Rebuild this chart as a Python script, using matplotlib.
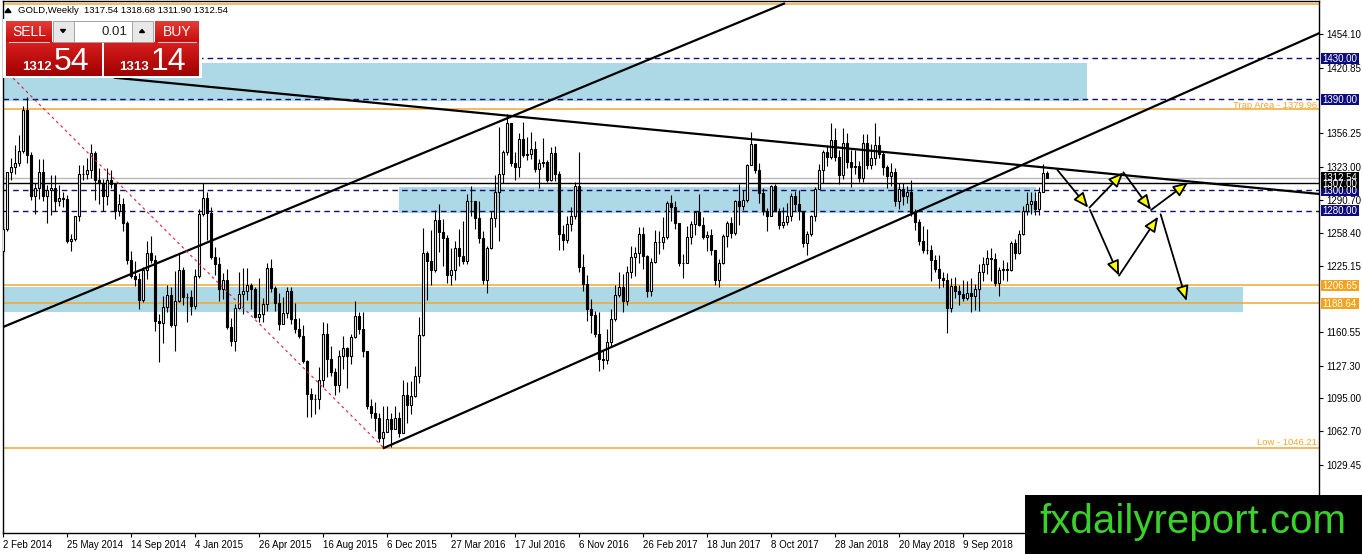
import numpy as np
import matplotlib
matplotlib.use('Agg')
import matplotlib.pyplot as plt
from matplotlib.patches import Rectangle, FancyArrowPatch, Polygon

plt.rcParams['font.family'] = ['Liberation Sans', 'DejaVu Sans']

# ---------------- DATA ----------------
first_open = 1240.0
closes = [
    1262, 1318, 1323, 1327, 1339, 1379, 1335, 1294, 1302, 1318,
    1294, 1300, 1302, 1290, 1293, 1292, 1250, 1252, 1275, 1316,
    1316, 1320, 1337, 1310, 1307, 1294, 1310, 1306, 1280, 1287,
    1268, 1231, 1216, 1213, 1192, 1222, 1238, 1231, 1171, 1169,
    1185, 1197, 1167, 1191, 1222, 1195, 1195, 1186,
    1216, 1277, 1293, 1278, 1234, 1227, 1203, 1212, 1165, 1152,
    1184, 1198, 1201, 1207, 1203, 1175, 1178, 1188, 1224, 1204,
    1189, 1168, 1179, 1201, 1173, 1163, 1157, 1132, 1099, 1094,
    1094, 1113, 1159, 1134, 1121, 1108, 1137, 1145, 1137, 1156,
    1176, 1163, 1142, 1088, 1081, 1076, 1056, 1062, 1075, 1065,
    1076, 1061,
    1098, 1089, 1097, 1117, 1158, 1238, 1230, 1222, 1271, 1259,
    1253, 1217, 1222, 1243, 1235, 1230, 1290, 1290, 1273, 1253,
    1212, 1243, 1273, 1298, 1316, 1338, 1366, 1327, 1323, 1351,
    1335, 1336, 1341, 1321, 1327, 1328, 1310, 1337, 1316, 1257,
    1251, 1267, 1275, 1304, 1225, 1208, 1183, 1177, 1159, 1134,
    1133, 1151,
    1173, 1197, 1205, 1191, 1220, 1234, 1238, 1257, 1235, 1201,
    1229, 1249, 1249, 1254, 1288, 1284, 1268, 1228, 1228, 1254,
    1267, 1279, 1266, 1254, 1256, 1241, 1212, 1228, 1255, 1268,
    1258, 1290, 1285, 1291, 1325, 1346, 1320, 1297, 1280, 1275,
    1304, 1280, 1266, 1269, 1275, 1294, 1287, 1280, 1248, 1257,
    1275, 1301,
    1320, 1338, 1333, 1350, 1333, 1315, 1347, 1328, 1323, 1324,
    1312, 1347, 1325, 1332, 1345, 1336, 1323, 1314, 1318, 1290,
    1301, 1294, 1298, 1279, 1269, 1250, 1241, 1241, 1231, 1223,
    1214, 1212, 1184, 1206, 1201, 1198, 1194, 1199, 1196, 1203,
    1220, 1227, 1233, 1232, 1209, 1222, 1223, 1222, 1248, 1238,
    1257, 1280,
    1287, 1290, 1282, 1298, 1317.54, 1312.54,
]
highs = [
    1268, 1318, 1332, 1345, 1355, 1383, 1392, 1338, 1307, 1331,
    1331, 1305, 1315, 1315, 1305, 1298, 1295, 1257, 1275, 1325,
    1325, 1332, 1346, 1339, 1322, 1311, 1322, 1320, 1305, 1296,
    1293, 1270, 1240, 1230, 1219, 1225, 1250, 1255, 1236, 1178,
    1196, 1207, 1205, 1221, 1238, 1225, 1199, 1202,
    1223, 1282, 1307, 1298, 1284, 1244, 1234, 1219, 1223, 1174,
    1188, 1220, 1224, 1224, 1209, 1205, 1214, 1194, 1228, 1232,
    1206, 1199, 1195, 1205, 1205, 1189, 1174, 1167, 1133, 1105,
    1099, 1126, 1170, 1169, 1147, 1125, 1143, 1157, 1146, 1159,
    1191, 1180, 1180, 1142, 1094, 1092, 1081, 1088, 1088, 1081,
    1088, 1082,
    1113, 1111, 1112, 1127, 1175, 1263, 1240, 1261, 1281, 1287,
    1272, 1256, 1243, 1250, 1262, 1270, 1296, 1304, 1290, 1290,
    1260, 1245, 1280, 1315, 1362, 1340, 1375, 1362, 1338, 1357,
    1367, 1353, 1358, 1349, 1331, 1352, 1330, 1343, 1344, 1319,
    1266, 1275, 1284, 1308, 1338, 1237, 1217, 1193, 1181, 1180,
    1143, 1163,
    1183, 1207, 1220, 1218, 1226, 1245, 1244, 1264, 1264, 1236,
    1233, 1261, 1260, 1274, 1290, 1295, 1290, 1268, 1237, 1265,
    1270, 1280, 1296, 1274, 1260, 1262, 1241, 1232, 1257, 1270,
    1274, 1291, 1306, 1300, 1326, 1358, 1339, 1327, 1302, 1283,
    1305, 1306, 1283, 1284, 1288, 1297, 1299, 1300, 1279, 1260,
    1276, 1303,
    1326, 1340, 1345, 1366, 1361, 1340, 1361, 1357, 1340, 1340,
    1329, 1356, 1356, 1346, 1366, 1354, 1338, 1325, 1327, 1322,
    1307, 1307, 1304, 1310, 1282, 1272, 1265, 1262, 1246, 1236,
    1236, 1220, 1219, 1214, 1215, 1207, 1212, 1211, 1214, 1208,
    1227, 1234, 1241, 1243, 1238, 1225, 1231, 1229, 1250, 1252,
    1261, 1285,
    1298, 1298, 1298, 1303, 1326, 1318.68,
]
lows = [
    1238, 1260, 1310, 1316, 1324, 1337, 1327, 1291, 1277, 1292,
    1290, 1268, 1276, 1280, 1285, 1284, 1248, 1240, 1250, 1270,
    1310, 1311, 1312, 1291, 1287, 1280, 1286, 1302, 1272, 1275,
    1260, 1227, 1214, 1206, 1183, 1190, 1213, 1228, 1161, 1131,
    1150, 1180, 1165, 1142, 1190, 1187, 1170, 1177,
    1183, 1214, 1275, 1251, 1232, 1217, 1191, 1193, 1163, 1147,
    1142, 1183, 1178, 1192, 1183, 1174, 1170, 1170, 1181, 1200,
    1181, 1162, 1170, 1174, 1168, 1160, 1155, 1130, 1077, 1077,
    1080, 1085, 1106, 1116, 1117, 1098, 1101, 1124, 1105, 1129,
    1155, 1159, 1136, 1085, 1076, 1063, 1052, 1046.21, 1062, 1047,
    1066, 1057,
    1061, 1071, 1080, 1096, 1110, 1157, 1192, 1207, 1220, 1239,
    1226, 1209, 1207, 1212, 1226, 1227, 1227, 1275, 1262, 1248,
    1208, 1199, 1242, 1264, 1250, 1307, 1335, 1324, 1310, 1313,
    1333, 1330, 1331, 1318, 1302, 1323, 1308, 1309, 1309, 1241,
    1241, 1248, 1260, 1272, 1220, 1201, 1171, 1160, 1156, 1122,
    1124, 1129,
    1146, 1171, 1195, 1180, 1187, 1214, 1216, 1228, 1223, 1195,
    1196, 1228, 1237, 1242, 1252, 1270, 1262, 1226, 1214, 1228,
    1247, 1256, 1265, 1252, 1240, 1236, 1207, 1205, 1227, 1244,
    1253, 1256, 1266, 1281, 1289, 1325, 1317, 1288, 1276, 1260,
    1275, 1280, 1262, 1263, 1266, 1270, 1280, 1271, 1244, 1236,
    1255, 1270,
    1301, 1307, 1324, 1331, 1329, 1306, 1311, 1322, 1303, 1316,
    1308, 1308, 1321, 1321, 1325, 1332, 1315, 1302, 1304, 1285,
    1282, 1286, 1288, 1275, 1261, 1246, 1238, 1237, 1211, 1220,
    1204, 1205, 1160, 1180, 1194, 1187, 1191, 1192, 1180, 1182,
    1181, 1211, 1218, 1211, 1206, 1196, 1212, 1211, 1221, 1232,
    1237, 1256,
    1276, 1277, 1276, 1276, 1298, 1311.90,
]

date_labels = ['2 Feb 2014', '25 May 2014', '14 Sep 2014', '4 Jan 2015', '26 Apr 2015',
               '16 Aug 2015', '6 Dec 2015', '27 Mar 2016', '17 Jul 2016', '6 Nov 2016',
               '26 Feb 2017', '18 Jun 2017', '8 Oct 2017', '28 Jan 2018', '20 May 2018',
               '9 Sep 2018']
date_label_bars = [0, 16, 32, 48, 64, 80, 96, 112, 128, 144, 160, 176, 192, 208, 224, 240]

price_ticks = [1454.10, 1420.85, 1356.25, 1323.00, 1290.70, 1258.40, 1225.15,
               1160.55, 1127.30, 1095.00, 1062.70, 1029.45, 996.20]

dashed_levels = [1430.00, 1390.00, 1300.00, 1280.00]
orange_levels = [1484.0, 1379.96, 1206.65, 1188.64, 1046.21]
bid_level = 1312.54
black_level = 1307.00

# zones: (bar_start, bar_end, price_low, price_high)
zones = [(0, 271, 1388.0, 1425.2), (99, 258.25, 1277.7, 1303.3), (0, 310, 1180.2, 1204.8)]

# trend lines: ((bar, price), (bar, price))
upper_line = ((0.0, 1165.4), (195.25, 1484.0))
lower_line = ((95.2, 1046.2), (329.0, 1454.8))
desc_line = ((28.0, 1411.0), (329.0, 1296.5))
red_line = ((2.5, 1410.7), (95.2, 1046.2))

# projection arrows (bar, price) -> (bar, price)
proj_arrows = [
    ((263.6, 1320.1), (271.3, 1283.0)),
    ((271.6, 1283.0), (280.1, 1317.8)),
    ((280.1, 1317.8), (287.0, 1280.7)),
    ((287.0, 1280.7), (296.3, 1308.0)),
    ((271.75, 1280.7), (279.0, 1216.0)),
    ((279.0, 1216.0), (288.8, 1274.1)),
    ((289.4, 1276.5), (295.9, 1191.0)),
]

right_labels = [(1430.00, '#0c0c80'), (1390.00, '#0c0c80'), (1300.00, '#0c0c80'),
                (1280.00, '#0c0c80'), (1206.65, '#f7a21b'), (1188.64, '#f7a21b'),
                (1312.54, '#000000'), (1307.00, '#000000')]

# ---------------- FIGURE ----------------
W, H = 1362, 554
fig = plt.figure(figsize=(W / 100, H / 100), dpi=100)
fig.patch.set_facecolor('white')
ax = fig.add_axes([3 / W, (H - 533) / H, 1316 / W, 532 / H])
ax.set_xlim(0, 329)
ax.set_ylim(962.47, 1486.6)

closes_a = np.array(closes, dtype=float)
opens_a = np.concatenate([[first_open], closes_a[:-1]])
highs_a = np.maximum(np.array(highs, dtype=float), np.maximum(opens_a, closes_a))
lows_a = np.minimum(np.array(lows, dtype=float), np.minimum(opens_a, closes_a))
xb = np.arange(len(closes_a))

# zones
for b0, b1, p0, p1 in zones:
    ax.add_patch(Rectangle((b0, p0), b1 - b0, p1 - p0, facecolor='#add8e6',
                           edgecolor='none', zorder=1))

# horizontal levels
for lv in dashed_levels:
    ax.axhline(lv, color='#101070', lw=1.0, ls=(0, (4, 3)), zorder=2)
for lv in orange_levels:
    ax.axhline(lv, color='#f0a830', lw=1.1, zorder=2)
ax.axhline(bid_level, color='#b8b8b8', lw=1.0, zorder=2)
ax.axhline(black_level, color='black', lw=1.0, zorder=2)

# candles
up = closes_a >= opens_a
ax.vlines(xb, lows_a, highs_a, color='black', lw=0.8, zorder=3)
ax.bar(xb[up], (closes_a - opens_a)[up], bottom=opens_a[up], width=0.6,
       facecolor='white', edgecolor='black', lw=0.8, zorder=4)
ax.bar(xb[~up], (opens_a - closes_a)[~up], bottom=closes_a[~up], width=0.6,
       facecolor='black', edgecolor='black', lw=0.8, zorder=4)

# trend lines
for ln in (upper_line, lower_line, desc_line):
    ax.plot(*zip(*ln), color='black', lw=1.6, zorder=5)
ax.plot(*zip(*red_line), color='#d8203c', lw=0.8, ls=(0, (2.5, 3)), zorder=5)

for a, b in proj_arrows:
    ax.add_patch(FancyArrowPatch(a, b, arrowstyle='-|>,head_length=0.9,head_width=0.38',
                                 mutation_scale=10, facecolor='#ffff00', edgecolor='black',
                                 lw=1.3, shrinkA=0, shrinkB=0, zorder=6))

# texts on levels
ax.text(328.5, 1379.96 + 1.4, 'Trap Area - 1379.96', color='#f0a830', fontsize=6.8,
        ha='right', va='baseline', zorder=6)
ax.text(328.5, 1046.21 + 3.0, 'Low - 1046.21', color='#f0a830', fontsize=6.8,
        ha='right', va='baseline', zorder=6)

# axes styling
for s in ['left', 'bottom', 'right', 'top']:
    ax.spines[s].set_color('black')
    ax.spines[s].set_linewidth(1.0)
ax.yaxis.tick_right()
ax.set_yticks(price_ticks)
ax.set_yticklabels([f'{v:.2f}' for v in price_ticks])
ax.set_xticks(date_label_bars)
ax.set_xticklabels(date_labels)
for lab in ax.get_xticklabels():
    lab.set_ha('left')
ax.tick_params(axis='y', direction='out', length=3, width=0.8, pad=2, labelsize=7)
ax.tick_params(axis='x', direction='out', length=3, width=0.8, pad=2, labelsize=7)

# ---------------- OVERLAY (pixel space) ----------------
ov = fig.add_axes([0, 0, 1, 1])
ov.set_zorder(10)
ov.patch.set_alpha(0)
ov.axis('off')

def py(p):
    return H - ax.transData.transform((0, p))[1]

for p, c in right_labels:
    y = py(p)
    ov.add_patch(Rectangle((1320.5, y - 5.5), 38, 11, facecolor=c, edgecolor='none'))
    ov.text(1322.5, y + 3.6, f'{p:.2f}', color='white', fontsize=7, ha='left', va='baseline')

# title
ov.add_patch(Polygon([(5, 12.5), (11, 12.5), (8, 8.5)], closed=True, color='black'))
ov.text(18, 13.3, 'GOLD,Weekly  1317.54 1318.68 1311.90 1312.54', fontsize=6.8,
        ha='left', va='baseline', color='black')

# trading panel
ov.add_patch(Rectangle((3, 18.5), 199, 59.5, facecolor='white', edgecolor='none'))

def grad(x0, x1, y0, y1, ctop, cbot):
    t = np.linspace(0, 1, 40)[:, None, None]
    a = np.array(matplotlib.colors.to_rgb(ctop))[None, None, :]
    b = np.array(matplotlib.colors.to_rgb(cbot))[None, None, :]
    img = a * (1 - t) + b * t
    ov.imshow(img, extent=(x0, x1, y1, y0), aspect='auto', origin='upper',
              interpolation='bilinear', zorder=2)

grad(6, 52, 20.7, 41.7, '#e43c36', '#c80c0c')
grad(155, 199, 20.7, 41.7, '#e43c36', '#c80c0c')
grad(6, 101.7, 42.3, 76, '#d81e1e', '#a00000')
grad(104, 199, 42.3, 76, '#d81e1e', '#a00000')
ov.plot([9, 49], [42, 42], color='#f4c0c0', lw=0.8, zorder=3)
ov.plot([158, 196], [42, 42], color='#f4c0c0', lw=0.8, zorder=3)

ov.add_patch(Rectangle((53, 21), 99.5, 20.5, facecolor='#e8e8e8', edgecolor='#9a9a9a', lw=0.6, zorder=2))
ov.add_patch(Rectangle((73.5, 21), 58, 20.5, facecolor='white', edgecolor='#9a9a9a', lw=0.6, zorder=3))
ov.add_patch(Polygon([(60.5, 29.5), (65.5, 29.5), (63, 32.5)], closed=True, color='black', zorder=4))
ov.add_patch(Polygon([(139.5, 32.5), (144.5, 32.5), (142, 29.5)], closed=True, color='black', zorder=4))
ov.text(127, 35, '0.01', fontsize=9.5, ha='right', va='baseline', color='#202020', zorder=4)

ov.text(29, 35.5, 'SELL', fontsize=10, ha='center', va='baseline', color='white', zorder=4)
ov.text(177, 35.5, 'BUY', fontsize=10, ha='center', va='baseline', color='white', zorder=4)
ov.text(36.5, 70, '1312', fontsize=9.5, fontweight='bold', ha='center', va='baseline', color='white', zorder=4)
ov.text(71.5, 70, '54', fontsize=23, ha='center', va='baseline', color='white', zorder=4)
ov.text(133.7, 70, '1313', fontsize=9.5, fontweight='bold', ha='center', va='baseline', color='white', zorder=4)
ov.text(168, 70, '14', fontsize=23, ha='center', va='baseline', color='white', zorder=4)

# logo
ov.add_patch(Rectangle((1025, 495), 337, 59, facecolor='black', edgecolor='none', zorder=5))
ov.text(1192.5, 533, 'fxdailyreport.com', fontsize=29, color='#3ad12b', ha='center',
        va='baseline', zorder=6)

ov.set_xlim(0, W)
ov.set_ylim(H, 0)

fig.savefig('out.png', dpi=100)
